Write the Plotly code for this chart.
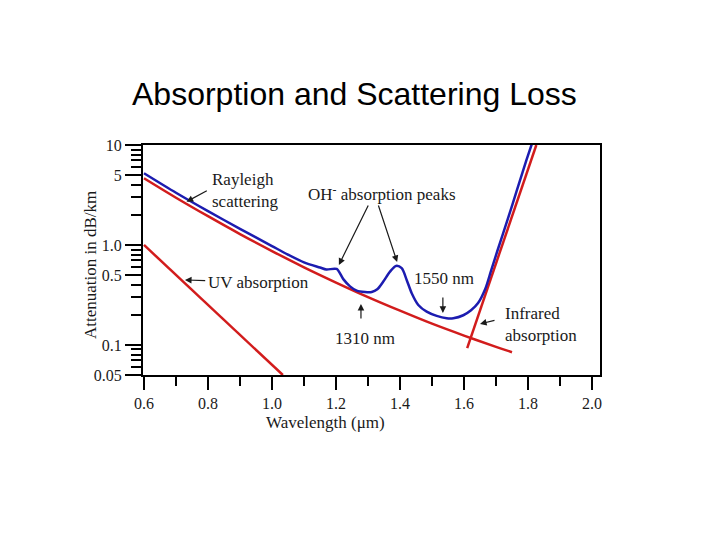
import math
import plotly.graph_objects as go

# ---- data ----
total_wl = [0.6, 0.7, 0.8, 0.9, 1.0, 1.05, 1.1, 1.15, 1.17, 1.202, 1.2228, 1.2438, 1.2647,
            1.2906, 1.3116, 1.329, 1.3478, 1.3688, 1.3875, 1.4053, 1.4209, 1.4366, 1.4572,
            1.4834, 1.5147, 1.5459, 1.5666, 1.5978, 1.622, 1.644, 1.666, 1.6844, 1.7047,
            1.7359, 1.7656, 1.7953, 1.8109, 1.8188]
total_att = [5.22, 3.33, 2.18, 1.45, 0.975, 0.80, 0.67, 0.595, 0.568, 0.575, 0.455, 0.385,
             0.349, 0.338, 0.338, 0.36, 0.430, 0.541, 0.617, 0.585, 0.447, 0.329, 0.251,
             0.215, 0.195, 0.185, 0.185, 0.198, 0.222, 0.262, 0.36, 0.55, 0.88,
             1.778, 3.55, 7.08, 10.0, 11.75]

rayleigh_wl = [0.6, 0.7, 0.8, 0.9, 1.0, 1.1, 1.2, 1.3, 1.4, 1.5, 1.6, 1.7, 1.75]
rayleigh_att = [4.65, 2.97, 1.94, 1.285, 0.869, 0.598, 0.421, 0.301, 0.22, 0.163, 0.124,
                0.0957, 0.0845]

uv_wl = [0.6, 1.034]
uv_att = [1.0, 0.05]

ir_wl = [1.61, 1.826]
ir_att = [0.093, 10.0]

x_ticks = [0.6, 0.8, 1.0, 1.2, 1.4, 1.6, 1.8, 2.0]
x_minor = [0.7, 0.9, 1.1, 1.3, 1.5, 1.7, 1.9]
y_ticks = [0.05, 0.1, 0.5, 1.0, 5, 10]
y_tick_text = ["0.05", "0.1", "0.5", "1.0", "5", "10"]
y_minor = [0.06, 0.07, 0.08, 0.09, 0.2, 0.3, 0.4, 0.6, 0.7, 0.8, 0.9,
           2, 3, 4, 6, 7, 8, 9]

BLUE = "#1c1cb0"
RED = "#d21c1c"
SERIF = "Liberation Serif, Times New Roman, serif"
TXT = "#1a1a1a"

fig = go.Figure()
fig.add_trace(go.Scatter(x=rayleigh_wl, y=rayleigh_att, mode="lines",
                         line=dict(color=RED, width=2.5, shape="spline", smoothing=1.0),
                         showlegend=False))
fig.add_trace(go.Scatter(x=uv_wl, y=uv_att, mode="lines",
                         line=dict(color=RED, width=2.5), showlegend=False))
fig.add_trace(go.Scatter(x=ir_wl, y=ir_att, mode="lines",
                         line=dict(color=RED, width=2.5), showlegend=False))
fig.add_trace(go.Scatter(x=total_wl, y=total_att, mode="lines",
                         line=dict(color=BLUE, width=2.5, shape="spline", smoothing=0.8),
                         showlegend=False))

L = math.log10


def arrow(x, ly, ax, aly):
    fig.add_annotation(x=x, y=ly, ax=ax, ay=aly, xref="x", yref="y",
                       axref="x", ayref="y", text="", showarrow=True,
                       arrowhead=2, arrowsize=1.1, arrowwidth=1.2, arrowcolor=TXT)


def label(x, ly, text, xanchor="left"):
    fig.add_annotation(x=x, y=ly, xref="x", yref="y", text=text, showarrow=False,
                       xanchor=xanchor, yanchor="middle", align="left",
                       font=dict(family=SERIF, size=17, color=TXT))


# arrows (head, tail) -- y in log10 units
arrow(0.733, 0.433, 0.801, 0.55)
arrow(0.728, -0.35, 0.796, -0.357)
arrow(1.209, -0.20, 1.303, 0.41)
arrow(1.391, -0.17, 1.331, 0.41)
arrow(1.534, -0.68, 1.534, -0.51)
arrow(1.278, -0.59, 1.278, -0.75)
arrow(1.650, -0.79, 1.700, -0.75)

label(0.805, 0.545, "Rayleigh<br>scattering")
label(0.795, -0.377, "UV absorption")
label(1.344, 0.52, "OH<sup>-</sup> absorption peaks", xanchor="center")
label(1.538, -0.333, "1550 nm", xanchor="center")
label(1.292, -0.933, "1310 nm", xanchor="center")
label(1.722, -0.795, "Infrared<br>absorption")

# title and axis titles (paper coords are relative to the plot area)
fig.add_annotation(x=(354 - 143) / 457, y=(375 - 94) / 230, xref="paper", yref="paper",
                   text="Absorption and Scattering Loss", showarrow=False,
                   xanchor="center", yanchor="middle",
                   font=dict(family="Liberation Sans, Arial, sans-serif", size=32, color="black"))
fig.add_annotation(x=(325 - 143) / 457, y=(375 - 422) / 230, xref="paper", yref="paper",
                   text="Wavelength (μm)", showarrow=False, xanchor="center", yanchor="middle",
                   font=dict(family=SERIF, size=17, color=TXT))
fig.add_annotation(x=(90 - 143) / 457, y=(375 - 265) / 230, xref="paper", yref="paper",
                   text="Attenuation in dB/km", showarrow=False, textangle=-90,
                   xanchor="center", yanchor="middle",
                   font=dict(family=SERIF, size=17, color=TXT))

fig.update_layout(
    width=720, height=540,
    margin=dict(l=143, r=120, t=145, b=165, pad=0),
    paper_bgcolor="white", plot_bgcolor="white",
    font=dict(family=SERIF, size=17, color=TXT),
    xaxis=dict(range=[0.5969, 2.025], showgrid=False, zeroline=False,
               showline=True, mirror=True, linecolor="black", linewidth=2,
               ticks="outside", ticklen=13, tickwidth=1.5, tickcolor="black",
               tickmode="array", tickvals=x_ticks, ticktext=[f"{v:.1f}" for v in x_ticks],
               tickfont=dict(family=SERIF, size=16, color=TXT),
               minor=dict(tickmode="array", tickvals=x_minor, ticks="outside",
                          ticklen=9, tickwidth=1.5, tickcolor="black", showgrid=False)),
    yaxis=dict(type="log", range=[L(0.05), 1], showgrid=False, zeroline=False,
               showline=True, mirror=True, linecolor="black", linewidth=2,
               ticks="outside", ticklen=16, tickwidth=1.5, tickcolor="black",
               tickmode="array", tickvals=y_ticks, ticktext=y_tick_text,
               tickfont=dict(family=SERIF, size=16, color=TXT),
               minor=dict(tickmode="array", tickvals=y_minor, ticks="outside",
                          ticklen=10, tickwidth=1.5, tickcolor="black", showgrid=False)),
)

fig.write_html("out.html", config={"displayModeBar": False},
               post_script="document.body.style.margin='0';")
